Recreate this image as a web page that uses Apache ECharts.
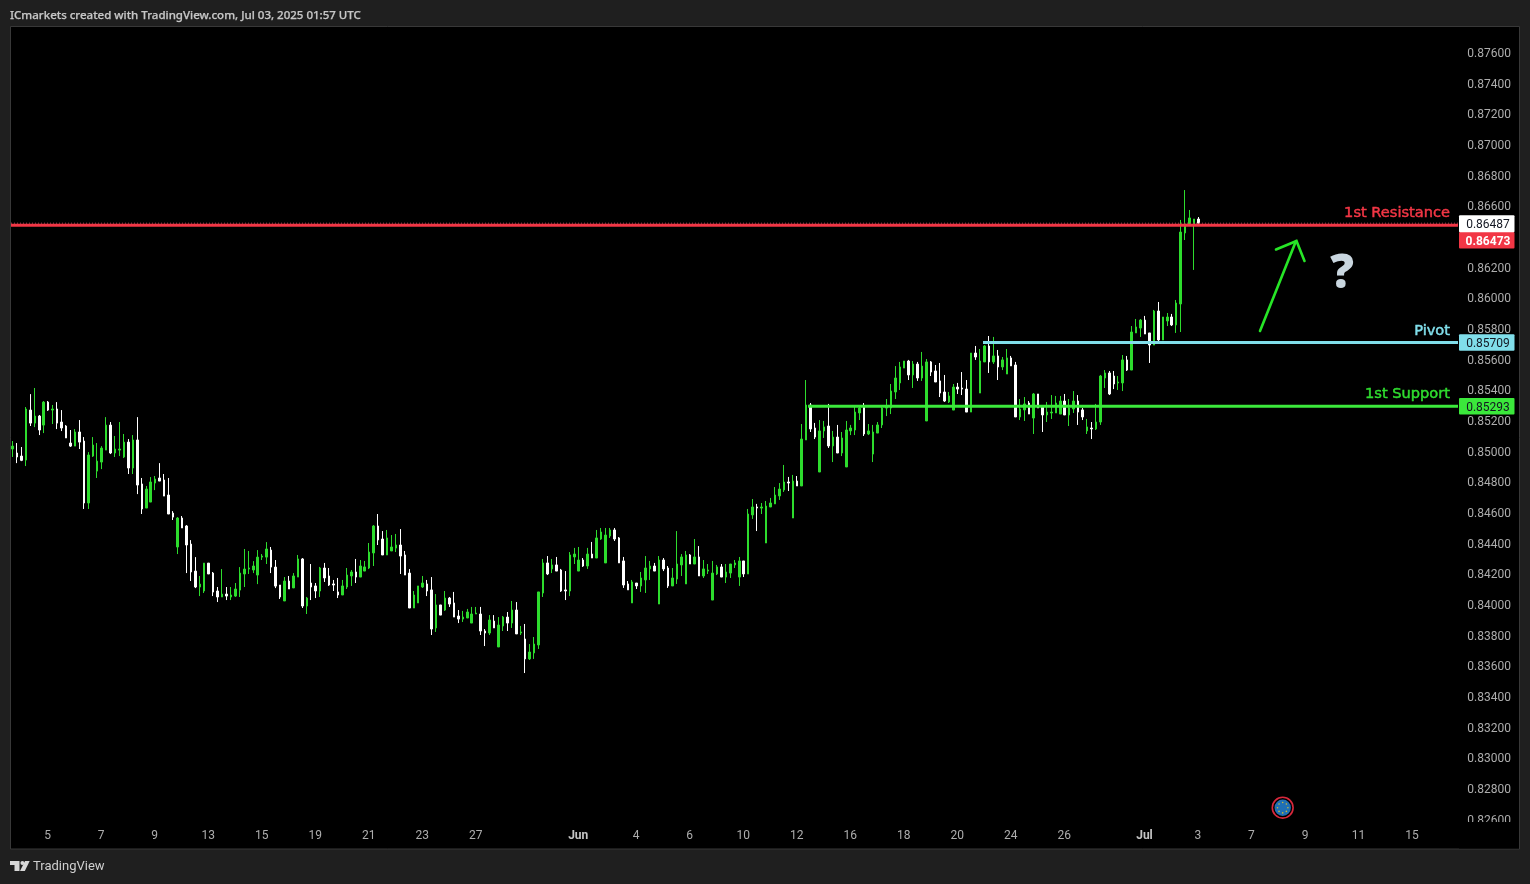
<!DOCTYPE html>
<html><head><meta charset="utf-8">
<style>html,body{margin:0;padding:0;background:#1f1f1f}#c{width:1530px;height:884px}</style>
<script src="https://cdn.jsdelivr.net/npm/echarts@6/dist/echarts.min.js"></script>
</head><body><div id="c"></div>
<script>
const opens=[0.85014,0.84988,0.84968,0.84942,0.85268,0.85183,0.85229,0.85170,0.85320,0.85268,
0.85275,0.85190,0.85164,0.85053,0.85033,0.85125,0.85066,0.84662,0.84968,0.84870,
0.84929,0.85007,0.85170,0.84988,0.85007,0.84962,0.85059,0.84890,0.85073,0.84786,
0.84629,0.84668,0.84792,0.84825,0.84812,0.84714,0.84596,0.84375,0.84564,0.84512,
0.84394,0.84218,0.84114,0.84088,0.84270,0.84205,0.84088,0.84049,0.84068,0.84049,
0.84055,0.84094,0.84199,0.84231,0.84225,0.84192,0.84309,0.84309,0.84355,0.84244,
0.84127,0.84023,0.84153,0.84108,0.84179,0.84297,0.83990,0.84140,0.84121,0.84088,
0.84238,0.84186,0.84134,0.84082,0.84062,0.84114,0.84186,0.84212,0.84179,0.84218,
0.84238,0.84336,0.84512,0.84427,0.84323,0.84349,0.84368,0.84388,0.84323,0.84205,
0.83977,0.84010,0.84114,0.84134,0.84095,0.83847,0.83997,0.83964,0.84042,0.84010,
0.83925,0.83905,0.83912,0.83879,0.83938,0.83938,0.83827,0.83814,0.83892,0.83723,
0.83860,0.83918,0.83879,0.83964,0.83814,0.83775,0.83645,0.83684,0.83736,0.84075,
0.84271,0.84232,0.84258,0.84225,0.84095,0.84088,0.84310,0.84218,0.84290,0.84251,
0.84329,0.84303,0.84427,0.84271,0.84447,0.84486,0.84434,0.84284,0.84134,0.84010,
0.84140,0.84121,0.84160,0.84232,0.84251,0.84003,0.84290,0.84238,0.84121,0.84166,
0.84258,0.84134,0.84323,0.84264,0.84310,0.84186,0.84218,0.84029,0.84199,0.84245,
0.84179,0.84205,0.84258,0.84179,0.84284,0.84199,0.84584,0.84636,0.84629,0.84401,
0.84636,0.84656,0.84708,0.84747,0.84799,0.84564,0.84805,0.84773,0.85073,0.85301,
0.85151,0.84864,0.85132,0.85164,0.85034,0.85092,0.84988,0.84897,0.85132,0.85138,
0.85249,0.85288,0.85112,0.84981,0.85118,0.85171,0.85281,0.85281,0.85386,0.85445,
0.85542,0.85588,0.85497,0.85568,0.85477,0.85197,0.85582,0.85523,0.85458,0.85386,
0.85321,0.85268,0.85418,0.85412,0.85405,0.85255,0.85640,0.85379,0.85582,0.85686,
0.85582,0.85621,0.85549,0.85503,0.85608,0.85562,0.85223,0.85269,0.85314,0.85216,
0.85373,0.85288,0.85236,0.85249,0.85249,0.85242,0.85327,0.85236,0.85275,0.85327,
0.85269,0.85132,0.85151,0.85145,0.85190,0.85477,0.85510,0.85490,0.85445,0.85445,
0.85595,0.85529,0.85771,0.85803,0.85855,0.85771,0.85692,0.85914,0.85725,0.85849,
0.85875,0.85823,0.85960,0.86423,0.86475,0.86475,0.86514];
const highs=[0.85066,0.85053,0.85027,0.85288,0.85372,0.85412,0.85236,0.85327,0.85327,0.85301,
0.85320,0.85268,0.85170,0.85138,0.85144,0.85203,0.85092,0.84994,0.85092,0.85053,
0.85033,0.85222,0.85190,0.85099,0.85190,0.85112,0.85079,0.85105,0.85222,0.84825,
0.84773,0.84831,0.84838,0.84922,0.84851,0.84825,0.84609,0.84570,0.84577,0.84518,
0.84420,0.84309,0.84186,0.84270,0.84270,0.84212,0.84114,0.84231,0.84114,0.84114,
0.84140,0.84244,0.84362,0.84349,0.84283,0.84355,0.84329,0.84407,0.84375,0.84290,
0.84127,0.84179,0.84186,0.84205,0.84323,0.84303,0.84049,0.84264,0.84140,0.84245,
0.84271,0.84238,0.84160,0.84173,0.84160,0.84238,0.84225,0.84297,0.84290,0.84284,
0.84401,0.84518,0.84590,0.84479,0.84486,0.84453,0.84460,0.84492,0.84349,0.84231,
0.84088,0.84121,0.84186,0.84160,0.84179,0.84068,0.83997,0.84088,0.84049,0.84082,
0.83964,0.83958,0.83971,0.83984,0.83984,0.83984,0.83840,0.83931,0.83931,0.83918,
0.83925,0.83951,0.84023,0.84016,0.83860,0.83873,0.83742,0.83788,0.84082,0.84297,
0.84316,0.84297,0.84310,0.84232,0.84218,0.84342,0.84369,0.84375,0.84303,0.84369,
0.84408,0.84486,0.84499,0.84499,0.84499,0.84499,0.84440,0.84310,0.84153,0.84160,
0.84140,0.84212,0.84316,0.84284,0.84271,0.84316,0.84303,0.84251,0.84238,0.84479,
0.84329,0.84349,0.84329,0.84427,0.84381,0.84290,0.84264,0.84284,0.84258,0.84264,
0.84264,0.84264,0.84290,0.84310,0.84284,0.84623,0.84688,0.84656,0.84662,0.84675,
0.84695,0.84766,0.84792,0.84910,0.84832,0.84845,0.84838,0.85177,0.85464,0.85314,
0.85184,0.85203,0.85197,0.85308,0.85132,0.85171,0.85125,0.85197,0.85171,0.85301,
0.85301,0.85314,0.85177,0.85171,0.85190,0.85301,0.85340,0.85438,0.85555,0.85582,
0.85588,0.85595,0.85588,0.85582,0.85647,0.85601,0.85588,0.85562,0.85575,0.85497,
0.85386,0.85438,0.85445,0.85516,0.85464,0.85640,0.85686,0.85666,0.85692,0.85751,
0.85745,0.85660,0.85614,0.85666,0.85621,0.85582,0.85340,0.85353,0.85327,0.85379,
0.85373,0.85295,0.85321,0.85366,0.85360,0.85360,0.85373,0.85340,0.85392,0.85366,
0.85282,0.85210,0.85190,0.85308,0.85497,0.85529,0.85523,0.85523,0.85490,0.85627,
0.85621,0.85816,0.85862,0.85862,0.85882,0.85771,0.85921,0.85973,0.85875,0.85901,
0.85895,0.85986,0.86508,0.86703,0.86573,0.86514,0.86527];
const lows=[0.84962,0.84922,0.84935,0.84903,0.85164,0.85157,0.85105,0.85118,0.85262,0.85177,
0.85144,0.85131,0.85086,0.85027,0.85033,0.85014,0.84623,0.84623,0.84962,0.84825,
0.84883,0.85007,0.84981,0.84962,0.84968,0.84955,0.84851,0.84851,0.84720,0.84590,
0.84629,0.84668,0.84746,0.84805,0.84707,0.84590,0.84551,0.84329,0.84499,0.84205,
0.84153,0.84107,0.84055,0.84075,0.84199,0.84055,0.84016,0.84049,0.84029,0.84029,
0.84049,0.84049,0.84114,0.84199,0.84205,0.84133,0.84290,0.84264,0.84205,0.84107,
0.84036,0.84023,0.84101,0.84108,0.84179,0.83977,0.83938,0.84029,0.84042,0.84049,
0.84147,0.84121,0.84088,0.84042,0.84062,0.84101,0.84121,0.84140,0.84179,0.84218,
0.84231,0.84251,0.84388,0.84323,0.84323,0.84349,0.84342,0.84199,0.84192,0.83977,
0.83977,0.84010,0.84108,0.84055,0.83801,0.83821,0.83931,0.83958,0.83984,0.83918,
0.83879,0.83886,0.83912,0.83879,0.83938,0.83801,0.83729,0.83801,0.83847,0.83723,
0.83827,0.83827,0.83847,0.83808,0.83801,0.83553,0.83638,0.83645,0.83710,0.84049,
0.84192,0.84205,0.84218,0.84082,0.84029,0.84055,0.84264,0.84218,0.84245,0.84232,
0.84303,0.84303,0.84421,0.84271,0.84434,0.84414,0.84271,0.84108,0.84095,0.84010,
0.84101,0.84082,0.84075,0.84160,0.84218,0.84003,0.84218,0.84108,0.84121,0.84134,
0.84186,0.84134,0.84264,0.84264,0.84186,0.84173,0.84199,0.84029,0.84192,0.84179,
0.84140,0.84173,0.84238,0.84121,0.84179,0.84199,0.84558,0.84479,0.84590,0.84401,
0.84636,0.84656,0.84682,0.84734,0.84740,0.84564,0.84773,0.84773,0.85073,0.85125,
0.85079,0.84864,0.85086,0.85021,0.84929,0.84988,0.84968,0.84897,0.85105,0.85105,
0.85203,0.85099,0.85105,0.84929,0.85118,0.85151,0.85229,0.85242,0.85340,0.85399,
0.85542,0.85464,0.85412,0.85458,0.85458,0.85197,0.85490,0.85451,0.85353,0.85321,
0.85314,0.85268,0.85373,0.85366,0.85255,0.85255,0.85595,0.85379,0.85582,0.85510,
0.85569,0.85464,0.85529,0.85503,0.85556,0.85223,0.85203,0.85197,0.85242,0.85112,
0.85282,0.85125,0.85190,0.85210,0.85249,0.85242,0.85236,0.85164,0.85249,0.85171,
0.85203,0.85112,0.85079,0.85138,0.85171,0.85412,0.85366,0.85405,0.85399,0.85392,
0.85523,0.85529,0.85771,0.85745,0.85764,0.85575,0.85692,0.85705,0.85725,0.85816,
0.85816,0.85771,0.85777,0.86377,0.86469,0.86182,0.86487];
const closes=[0.85033,0.84962,0.84940,0.85275,0.85183,0.85229,0.85138,0.85320,0.85268,0.85275,
0.85183,0.85151,0.85086,0.85033,0.85125,0.85059,0.84662,0.84975,0.85040,0.84935,
0.85020,0.85170,0.84988,0.85014,0.85014,0.85059,0.84890,0.85073,0.84779,0.84623,
0.84753,0.84799,0.84818,0.84805,0.84707,0.84590,0.84570,0.84564,0.84499,0.84388,
0.84212,0.84114,0.84133,0.84270,0.84199,0.84081,0.84049,0.84068,0.84055,0.84062,
0.84101,0.84205,0.84231,0.84238,0.84251,0.84309,0.84316,0.84362,0.84244,0.84120,
0.84049,0.84153,0.84101,0.84186,0.84297,0.83990,0.84042,0.84114,0.84088,0.84238,
0.84173,0.84127,0.84127,0.84062,0.84121,0.84192,0.84212,0.84179,0.84251,0.84245,
0.84342,0.84512,0.84421,0.84323,0.84434,0.84375,0.84388,0.84316,0.84192,0.83977,
0.84062,0.84121,0.84140,0.84088,0.83840,0.83997,0.83931,0.84042,0.84003,0.83918,
0.83905,0.83918,0.83951,0.83938,0.83944,0.83827,0.83814,0.83899,0.83847,0.83866,
0.83918,0.83879,0.83964,0.83808,0.83821,0.83645,0.83690,0.83742,0.84082,0.84271,
0.84199,0.84258,0.84218,0.84088,0.84088,0.84323,0.84329,0.84290,0.84251,0.84329,
0.84303,0.84434,0.84473,0.84453,0.84486,0.84427,0.84271,0.84127,0.84095,0.84147,
0.84121,0.84173,0.84238,0.84251,0.84218,0.84290,0.84232,0.84121,0.84173,0.84264,
0.84310,0.84323,0.84264,0.84310,0.84186,0.84232,0.84225,0.84205,0.84245,0.84179,
0.84212,0.84264,0.84271,0.84284,0.84199,0.84590,0.84636,0.84629,0.84636,0.84642,
0.84662,0.84714,0.84753,0.84799,0.84792,0.84805,0.84773,0.85079,0.85301,0.85145,
0.85092,0.85132,0.85158,0.85034,0.85092,0.84988,0.85086,0.85138,0.85151,0.85255,
0.85281,0.85112,0.85132,0.85125,0.85171,0.85281,0.85295,0.85392,0.85477,0.85549,
0.85588,0.85497,0.85568,0.85477,0.85555,0.85582,0.85516,0.85451,0.85379,0.85327,
0.85360,0.85418,0.85405,0.85405,0.85255,0.85640,0.85614,0.85588,0.85686,0.85582,
0.85621,0.85549,0.85595,0.85608,0.85556,0.85223,0.85275,0.85308,0.85242,0.85373,
0.85282,0.85236,0.85255,0.85255,0.85314,0.85327,0.85236,0.85282,0.85327,0.85255,
0.85223,0.85158,0.85145,0.85190,0.85490,0.85510,0.85373,0.85438,0.85451,0.85595,
0.85529,0.85777,0.85810,0.85855,0.85764,0.85692,0.85914,0.85725,0.85875,0.85875,
0.85823,0.85966,0.86429,0.86482,0.86521,0.86514,0.86487];

const tickLabels=['5','7','9','13','15','19','21','23','27','Jun','4','6','10','12','16','18','20','24','26','Jul','3','7','9','11','15'];
const tickBars=[8,20,32,44,56,68,80,92,104,127,140,152,164,176,188,200,212,224,236,254,266,278,290,302,314];
const monthLabels=['Jun','Jul'];
const levelNames=['1st Resistance','Pivot','1st Support'];
const levelPrices=[0.86473,0.85709,0.85293];
const levelColors=['#f23645','#80deea','#3be83b'];
const levelNameColors=['#f23645','#80deea','#2fdc2f'];
const levelTagText=['#ffffff','#131722','#131722'];
const levelTagOffset=[15,0,0];
const levelStartX=[11,983,808];
const lastPrice=0.86487;
const barSlots=325;

const GREEN='#2ddc2d', FONT='Roboto, sans-serif';
const categories=Array.from({length:barSlots},(_,i)=>String(i));
const candleData=opens.map((o,i)=>[o,closes[i],lows[i],highs[i]]);
const chart=echarts.init(document.getElementById('c'),null,{renderer:'canvas'});
chart.setOption({
  animation:false,backgroundColor:'#1f1f1f',
  grid:{left:10.27,top:21.83,width:1449.05,height:828,containLabel:false},
  xAxis:{type:'category',data:categories,boundaryGap:true,z:3,
    axisLine:{show:false},axisTick:{show:false},splitLine:{show:false},
    axisLabel:{inside:true,margin:8,padding:[0,1,0,0],fontFamily:FONT,fontSize:12,color:'#adadad',hideOverlap:false,
      interval:i=>tickBars.includes(+i),
      formatter:v=>{const t=tickLabels[tickBars.indexOf(+v)];return monthLabels.includes(t)?'{b|'+t+'}':t;},
      rich:{b:{fontFamily:FONT,fontSize:12,fontWeight:'bold',color:'#c4c4c4'}}}},
  yAxis:{type:'value',position:'right',min:0.824,max:0.878,interval:0.002,z:1,scale:true,
    axisLine:{show:false},axisTick:{show:false},splitLine:{show:false},
    axisLabel:{margin:8,fontFamily:FONT,fontSize:12,color:'#adadad',showMinLabel:false,showMaxLabel:false,
      formatter:v=>'{t|'+v.toFixed(5)+'}',
      rich:{t:{fontFamily:FONT,fontSize:12,color:'#adadad',padding:[3,0,0,0]}}}},
  series:[{type:'candlestick',data:candleData,barWidth:2,z:2,silent:true,
    itemStyle:{color:GREEN,color0:'#ffffff',borderColor:GREEN,borderColor0:'#ffffff',borderColorDoji:'#ffffff',borderWidth:1}}]
});
const py=p=>chart.convertToPixel({yAxisIndex:0},p);
const g=[];
g.push({type:'rect',z:-1,shape:{x:10.5,y:26.5,width:1509,height:822.5},style:{fill:'#000',stroke:'#383838',lineWidth:1}});
g.push({type:'rect',z:2,shape:{x:1459,y:822,width:60,height:26.5},style:{fill:'#000'}});
g.push({type:'text',z:6,x:10,y:15.5,style:{text:'ICmarkets created with TradingView.com, Jul 03, 2025 01:57 UTC',fill:'#c6c6c6',stroke:'#c6c6c6',lineWidth:0.25,font:'500 11.5px "Noto Sans"',textVerticalAlign:'middle'}});
// last price dotted line
g.push({type:'line',z:5,shape:{x1:11,y1:py(lastPrice),x2:1458,y2:py(lastPrice)},style:{stroke:'#a04858',lineWidth:1,lineDash:[1,2]}});
levelPrices.forEach((p,i)=>{
  const y=py(p);
  g.push({type:'line',z:6,shape:{x1:levelStartX[i],y1:y,x2:1458,y2:y},style:{stroke:levelColors[i],lineWidth:3}});
  g.push({type:'text',z:7,x:1450,y:y-11.7,style:{text:levelNames[i],fill:levelNameColors[i],stroke:levelNameColors[i],lineWidth:0.5,textAlign:'right',textVerticalAlign:'middle',font:'14.6px "DejaVu Sans"'}});
  g.push({type:'rect',z:7,shape:{x:1459,y:y+levelTagOffset[i]-8.2,width:55.5,height:16.5,r:1},style:{fill:levelColors[i]}});
  g.push({type:'text',z:8,x:1488,y:y+levelTagOffset[i]+1.5,style:{text:p.toFixed(5),fill:levelTagText[i],textAlign:'center',textVerticalAlign:'middle',font:(i===0?'bold ':'')+'12px Roboto'}});
});
// last price tag
{const y=py(lastPrice);
 g.push({type:'rect',z:7,shape:{x:1459,y:y-8,width:55.5,height:17,r:1},style:{fill:'#fff'}});
 g.push({type:'text',z:8,x:1488,y:y+1.5,style:{text:lastPrice.toFixed(5),fill:'#131722',textAlign:'center',textVerticalAlign:'middle',font:'12px Roboto'}});}
// arrow
g.push({type:'polyline',z:7,shape:{points:[[1260,331],[1296,241]]},style:{stroke:'#27e627',lineWidth:2.6,lineCap:'round',fill:null}});
g.push({type:'polyline',z:7,shape:{points:[[1276,249.5],[1296.5,241],[1304.5,261]]},style:{stroke:'#27e627',lineWidth:2.6,lineCap:'round',lineJoin:'miter',fill:null}});
g.push({type:'text',z:7,x:1342,y:275,style:{text:'?',fill:'#c9d6df',textAlign:'center',textVerticalAlign:'middle',font:'800 47px "Open Sans"'}});
// EU flag badge
g.push({type:'circle',z:7,shape:{cx:1282.7,cy:807.7,r:10.4},style:{fill:'#000',stroke:'#d8283c',lineWidth:1.6}});
g.push({type:'circle',z:7,shape:{cx:1282.7,cy:807.7,r:8.2},style:{fill:'#1f6fb5'}});
for(let k=0;k<8;k++){const a=k*Math.PI/4;g.push({type:'circle',z:8,shape:{cx:1282.7+5.2*Math.cos(a),cy:807.7+5.2*Math.sin(a),r:0.8},style:{fill:'#c9b93a'}});}
// TradingView logo
g.push({type:'polygon',z:7,shape:{points:[[10,861],[19.5,861],[19.5,871],[14.5,871],[14.5,865],[10,865]]},style:{fill:'#d8d8d8'}});
g.push({type:'circle',z:7,shape:{cx:22.4,cy:863,r:2},style:{fill:'#d8d8d8'}});
g.push({type:'polygon',z:7,shape:{points:[[25,861],[29.7,861],[24.8,871],[20,871]]},style:{fill:'#d8d8d8'}});
g.push({type:'text',z:7,x:33,y:867,style:{text:'TradingView',fill:'#cfcfcf',textVerticalAlign:'middle',font:'13px Roboto'}});
chart.setOption({graphic:{elements:g}});
</script></body></html>
